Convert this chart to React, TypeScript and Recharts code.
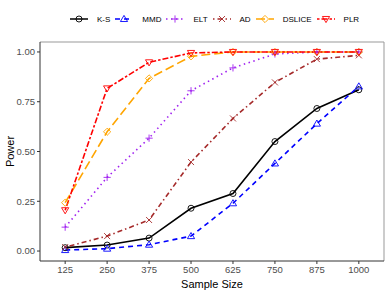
import React from 'react';
import { LineChart, Line, XAxis, YAxis, ReferenceLine, Label } from 'recharts';

const sampleSizes = [125, 250, 375, 500, 625, 750, 875, 1000];
const ksPower = [0.017, 0.03, 0.065, 0.215, 0.289, 0.55, 0.716, 0.81];
const mmdPower = [0.005, 0.012, 0.032, 0.075, 0.24, 0.44, 0.64, 0.827];
const eltPower = [0.12, 0.37, 0.567, 0.805, 0.92, 0.99, 1.0, 1.0];
const adPower = [0.02, 0.075, 0.156, 0.447, 0.666, 0.847, 0.964, 0.983];
const dslicePower = [0.243, 0.599, 0.867, 0.978, 1.0, 1.0, 1.0, 1.0];
const plrPower = [0.205, 0.817, 0.948, 0.995, 1.0, 1.0, 1.0, 1.0];
const yTicks = [0, 0.25, 0.5, 0.75, 1.0];

type Shape = 'circle' | 'triUp' | 'plus' | 'cross' | 'diamond' | 'triDown';

const series: { key: string; name: string; color: string; dash?: string; shape: Shape; values: number[] }[] = [
  { key: 'ks', name: 'K-S', color: '#000000', shape: 'circle', values: ksPower },
  { key: 'mmd', name: 'MMD', color: '#0000FF', dash: '5 4', shape: 'triUp', values: mmdPower },
  { key: 'elt', name: 'ELT', color: '#A020F0', dash: '1.5 3.5', shape: 'plus', values: eltPower },
  { key: 'ad', name: 'AD', color: '#A52A2A', dash: '1.5 3 5 3', shape: 'cross', values: adPower },
  { key: 'dslice', name: 'DSLICE', color: '#FFA500', dash: '9 4', shape: 'diamond', values: dslicePower },
  { key: 'plr', name: 'PLR', color: '#FF0000', dash: '2.5 2 6 2', shape: 'triDown', values: plrPower },
];

const data = sampleSizes.map((n, i) => {
  const row: Record<string, number> = { n };
  series.forEach((s) => { row[s.key] = s.values[i]; });
  return row;
});

const FONT = '"Liberation Sans", Arial, Helvetica, sans-serif';

function Marker({ shape, cx, cy, color }: { shape: Shape; cx: number; cy: number; color: string }) {
  const p = { fill: 'none', stroke: color, strokeWidth: 0.9 };
  const r = 3.6;
  switch (shape) {
    case 'circle':
      return <circle cx={cx} cy={cy} r={3} {...p} />;
    case 'triUp':
      return <polygon points={`${cx},${cy - r} ${cx - r},${cy + r * 0.7} ${cx + r},${cy + r * 0.7}`} {...p} />;
    case 'triDown':
      return <polygon points={`${cx},${cy + r} ${cx - r},${cy - r * 0.7} ${cx + r},${cy - r * 0.7}`} {...p} />;
    case 'plus':
      return <path d={`M${cx - r},${cy}H${cx + r}M${cx},${cy - r}V${cy + r}`} {...p} />;
    case 'cross':
      return <path d={`M${cx - 3},${cy - 3}L${cx + 3},${cy + 3}M${cx - 3},${cy + 3}L${cx + 3},${cy - 3}`} {...p} />;
    case 'diamond':
      return <polygon points={`${cx},${cy - r} ${cx + r},${cy} ${cx},${cy + r} ${cx - r},${cy}`} {...p} />;
  }
  return null;
}

function LegendRow() {
  return (
    <div style={{ position: 'absolute', left: 70, top: 12, width: 316, display: 'flex', alignItems: 'center', whiteSpace: 'nowrap', fontFamily: FONT, fontSize: 8, color: '#000' }}>
      {series.map((s) => (
        <div key={s.key} style={{ display: 'flex', alignItems: 'center', marginRight: 5, flexShrink: 0 }}>
          <svg width={18} height={14}>
            <line x1={0} x2={18} y1={7} y2={7} stroke={s.color} strokeWidth={1.5} strokeDasharray={s.dash} />
            <Marker shape={s.shape} cx={9} cy={7} color={s.color} />
          </svg>
          <span style={{ marginLeft: 9 }}>{s.name}</span>
        </div>
      ))}
    </div>
  );
}

export default function App() {
  return (
    <div style={{ position: 'absolute', left: 0, top: 0, width: 388, height: 291, background: '#fff' }}>
      <LineChart width={388} height={291} data={data} margin={{ top: 42, right: 4, bottom: 0, left: 0 }}>
        <XAxis
          dataKey="n"
          type="number"
          domain={[50, 1075]}
          ticks={sampleSizes}
          allowDataOverflow
          height={30}
          tickSize={3}
          tickMargin={2}
          stroke="#333"
          tick={{ fill: '#4D4D4D', fontSize: 9.5, fontFamily: FONT }}
        >
          <Label value="Sample Size" position="insideBottom" offset={3} style={{ fill: '#000', fontSize: 11, fontFamily: FONT }} />
        </XAxis>
        <YAxis
          type="number"
          domain={[-0.05, 1.05]}
          ticks={yTicks}
          allowDataOverflow
          width={40}
          tickSize={3}
          tickMargin={2}
          stroke="#333"
          tickFormatter={(v: number) => v.toFixed(2)}
          tick={{ fill: '#4D4D4D', fontSize: 9.5, fontFamily: FONT }}
        >
          <Label value="Power" angle={-90} position="insideLeft" offset={10} style={{ fill: '#000', fontSize: 11, fontFamily: FONT, textAnchor: 'middle' }} />
        </YAxis>
        <ReferenceLine y={1.05} stroke="#999" strokeWidth={1} ifOverflow="visible" />
        <ReferenceLine x={1075} stroke="#999" strokeWidth={1} ifOverflow="visible" />
        {series.map((s) => (
          <Line
            key={s.key}
            dataKey={s.key}
            name={s.name}
            type="linear"
            stroke={s.color}
            strokeWidth={1.6}
            strokeDasharray={s.dash}
            isAnimationActive={false}
            dot={(props: any) => (
              <g key={`${s.key}-${props.index}`}>
                <Marker shape={s.shape} cx={props.cx} cy={props.cy} color={s.color} />
              </g>
            )}
            activeDot={false}
          />
        ))}
      </LineChart>
      <LegendRow />
    </div>
  );
}
